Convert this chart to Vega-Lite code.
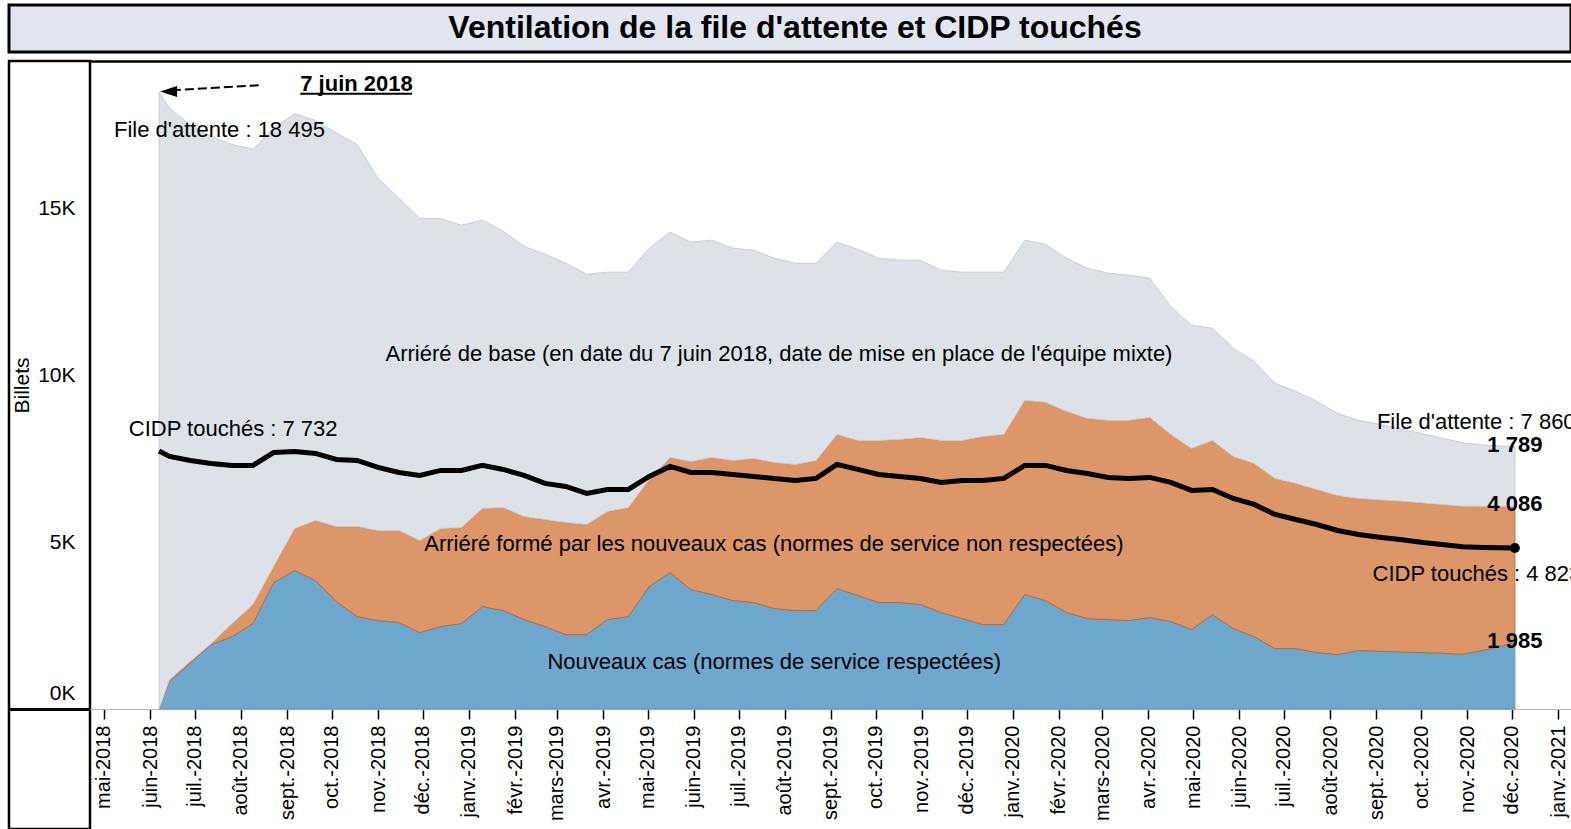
{
  "$schema": "https://vega.github.io/schema/vega-lite/v6.json",
  "padding": {"left": 7, "top": 3, "right": 0, "bottom": 0},
  "background": "white",
  "spacing": 5,
  "config": {
    "font": "Liberation Sans",
    "view": {"stroke": null},
    "text": {"font": "Liberation Sans", "color": "black"},
    "axis": {"labelColor": "black", "titleColor": "black", "labelFont": "Liberation Sans", "titleFont": "Liberation Sans"},
    "locale": {
      "number": {"decimal": ",", "thousands": " ", "grouping": [3], "currency": ["", " €"]},
      "time": {
        "dateTime": "%A %e %B %Y à %X", "date": "%d/%m/%Y", "time": "%H:%M:%S", "periods": ["AM", "PM"],
        "days": ["dimanche", "lundi", "mardi", "mercredi", "jeudi", "vendredi", "samedi"],
        "shortDays": ["dim.", "lun.", "mar.", "mer.", "jeu.", "ven.", "sam."],
        "months": ["janvier", "février", "mars", "avril", "mai", "juin", "juillet", "août", "septembre", "octobre", "novembre", "décembre"],
        "shortMonths": ["janv.", "févr.", "mars", "avr.", "mai", "juin", "juil.", "août", "sept.", "oct.", "nov.", "déc."]
      }
    }
  },
  "datasets": {
    "files": [
      {"date":"2018-06-07","nouveaux":0,"arriere_nouveaux":0,"arriere_base":18495,"cidp":7732},
      {"date":"2018-06-14","nouveaux":820,"arriere_nouveaux":60,"arriere_base":17130,"cidp":7570},
      {"date":"2018-06-28","nouveaux":1380,"arriere_nouveaux":50,"arriere_base":16070,"cidp":7450},
      {"date":"2018-07-12","nouveaux":1930,"arriere_nouveaux":30,"arriere_base":15190,"cidp":7360},
      {"date":"2018-07-26","nouveaux":2170,"arriere_nouveaux":390,"arriere_base":14360,"cidp":7300},
      {"date":"2018-08-09","nouveaux":2560,"arriere_nouveaux":570,"arriere_base":13640,"cidp":7300},
      {"date":"2018-08-23","nouveaux":3790,"arriere_nouveaux":490,"arriere_base":13130,"cidp":7690},
      {"date":"2018-09-06","nouveaux":4150,"arriere_nouveaux":1260,"arriere_base":12430,"cidp":7720},
      {"date":"2018-09-20","nouveaux":3850,"arriere_nouveaux":1800,"arriere_base":11990,"cidp":7660},
      {"date":"2018-10-04","nouveaux":3220,"arriere_nouveaux":2250,"arriere_base":11790,"cidp":7480},
      {"date":"2018-10-18","nouveaux":2770,"arriere_nouveaux":2700,"arriere_base":11450,"cidp":7450},
      {"date":"2018-11-01","nouveaux":2650,"arriere_nouveaux":2700,"arriere_base":10550,"cidp":7240},
      {"date":"2018-11-15","nouveaux":2590,"arriere_nouveaux":2760,"arriere_base":9960,"cidp":7090},
      {"date":"2018-11-29","nouveaux":2290,"arriere_nouveaux":2760,"arriere_base":9650,"cidp":7000},
      {"date":"2018-12-13","nouveaux":2470,"arriere_nouveaux":2940,"arriere_base":9290,"cidp":7150},
      {"date":"2018-12-27","nouveaux":2560,"arriere_nouveaux":2880,"arriere_base":9060,"cidp":7150},
      {"date":"2019-01-10","nouveaux":3070,"arriere_nouveaux":2940,"arriere_base":8640,"cidp":7300},
      {"date":"2019-01-24","nouveaux":2950,"arriere_nouveaux":3090,"arriere_base":8280,"cidp":7180},
      {"date":"2019-02-07","nouveaux":2680,"arriere_nouveaux":3090,"arriere_base":8100,"cidp":7000},
      {"date":"2019-02-21","nouveaux":2470,"arriere_nouveaux":3210,"arriere_base":7950,"cidp":6760},
      {"date":"2019-03-07","nouveaux":2230,"arriere_nouveaux":3360,"arriere_base":7770,"cidp":6670},
      {"date":"2019-03-21","nouveaux":2230,"arriere_nouveaux":3300,"arriere_base":7500,"cidp":6460},
      {"date":"2019-04-04","nouveaux":2680,"arriere_nouveaux":3240,"arriere_base":7170,"cidp":6580},
      {"date":"2019-04-18","nouveaux":2770,"arriere_nouveaux":3270,"arriere_base":7050,"cidp":6580},
      {"date":"2019-05-02","nouveaux":3670,"arriere_nouveaux":3210,"arriere_base":6930,"cidp":6970},
      {"date":"2019-05-16","nouveaux":4090,"arriere_nouveaux":3450,"arriere_base":6750,"cidp":7270},
      {"date":"2019-05-30","nouveaux":3580,"arriere_nouveaux":3840,"arriere_base":6570,"cidp":7090},
      {"date":"2019-06-13","nouveaux":3430,"arriere_nouveaux":4110,"arriere_base":6510,"cidp":7090},
      {"date":"2019-06-27","nouveaux":3250,"arriere_nouveaux":4200,"arriere_base":6360,"cidp":7030},
      {"date":"2019-07-11","nouveaux":3190,"arriere_nouveaux":4320,"arriere_base":6240,"cidp":6970},
      {"date":"2019-07-25","nouveaux":3010,"arriere_nouveaux":4380,"arriere_base":6120,"cidp":6910},
      {"date":"2019-08-08","nouveaux":2950,"arriere_nouveaux":4380,"arriere_base":6030,"cidp":6850},
      {"date":"2019-08-22","nouveaux":2950,"arriere_nouveaux":4500,"arriere_base":5910,"cidp":6910},
      {"date":"2019-09-05","nouveaux":3610,"arriere_nouveaux":4620,"arriere_base":5760,"cidp":7330},
      {"date":"2019-09-19","nouveaux":3400,"arriere_nouveaux":4650,"arriere_base":5730,"cidp":7180},
      {"date":"2019-10-03","nouveaux":3190,"arriere_nouveaux":4860,"arriere_base":5460,"cidp":7030},
      {"date":"2019-10-17","nouveaux":3190,"arriere_nouveaux":4890,"arriere_base":5370,"cidp":6970},
      {"date":"2019-10-31","nouveaux":3130,"arriere_nouveaux":5010,"arriere_base":5310,"cidp":6910},
      {"date":"2019-11-14","nouveaux":2890,"arriere_nouveaux":5160,"arriere_base":5100,"cidp":6790},
      {"date":"2019-11-28","nouveaux":2710,"arriere_nouveaux":5340,"arriere_base":5040,"cidp":6850},
      {"date":"2019-12-12","nouveaux":2530,"arriere_nouveaux":5640,"arriere_base":4920,"cidp":6850},
      {"date":"2019-12-26","nouveaux":2530,"arriere_nouveaux":5700,"arriere_base":4860,"cidp":6910},
      {"date":"2020-01-09","nouveaux":3430,"arriere_nouveaux":5820,"arriere_base":4800,"cidp":7300},
      {"date":"2020-01-23","nouveaux":3250,"arriere_nouveaux":5940,"arriere_base":4740,"cidp":7300},
      {"date":"2020-02-06","nouveaux":2890,"arriere_nouveaux":6030,"arriere_base":4590,"cidp":7150},
      {"date":"2020-02-20","nouveaux":2710,"arriere_nouveaux":6000,"arriere_base":4500,"cidp":7060},
      {"date":"2020-03-05","nouveaux":2680,"arriere_nouveaux":5970,"arriere_base":4410,"cidp":6940},
      {"date":"2020-03-19","nouveaux":2650,"arriere_nouveaux":6000,"arriere_base":4350,"cidp":6910},
      {"date":"2020-04-02","nouveaux":2740,"arriere_nouveaux":6000,"arriere_base":4170,"cidp":6940},
      {"date":"2020-04-16","nouveaux":2620,"arriere_nouveaux":5610,"arriere_base":3840,"cidp":6790},
      {"date":"2020-04-30","nouveaux":2380,"arriere_nouveaux":5430,"arriere_base":3690,"cidp":6550},
      {"date":"2020-05-14","nouveaux":2830,"arriere_nouveaux":5220,"arriere_base":3360,"cidp":6580},
      {"date":"2020-05-28","nouveaux":2410,"arriere_nouveaux":5160,"arriere_base":3240,"cidp":6310},
      {"date":"2020-06-11","nouveaux":2170,"arriere_nouveaux":5190,"arriere_base":3060,"cidp":6130},
      {"date":"2020-06-25","nouveaux":1810,"arriere_nouveaux":5100,"arriere_base":2850,"cidp":5830},
      {"date":"2020-07-09","nouveaux":1810,"arriere_nouveaux":4950,"arriere_base":2760,"cidp":5680},
      {"date":"2020-07-23","nouveaux":1690,"arriere_nouveaux":4890,"arriere_base":2640,"cidp":5530},
      {"date":"2020-08-06","nouveaux":1630,"arriere_nouveaux":4770,"arriere_base":2460,"cidp":5350},
      {"date":"2020-08-20","nouveaux":1750,"arriere_nouveaux":4560,"arriere_base":2340,"cidp":5230},
      {"date":"2020-09-03","nouveaux":1730,"arriere_nouveaux":4540,"arriere_base":2260,"cidp":5150},
      {"date":"2020-09-17","nouveaux":1710,"arriere_nouveaux":4520,"arriere_base":2170,"cidp":5080},
      {"date":"2020-10-01","nouveaux":1690,"arriere_nouveaux":4490,"arriere_base":2080,"cidp":5000},
      {"date":"2020-10-15","nouveaux":1670,"arriere_nouveaux":4460,"arriere_base":1990,"cidp":4930},
      {"date":"2020-10-29","nouveaux":1640,"arriere_nouveaux":4440,"arriere_base":1900,"cidp":4860},
      {"date":"2020-11-12","nouveaux":1760,"arriere_nouveaux":4315,"arriere_base":1835,"cidp":4840},
      {"date":"2020-12-03","nouveaux":1985,"arriere_nouveaux":4086,"arriere_base":1789,"cidp":4823}
    ],
    "rangs": [
      {"serie": "nouveaux", "rang": 1},
      {"serie": "arriere_nouveaux", "rang": 2},
      {"serie": "arriere_base", "rang": 3}
    ],
    "etiquettes": [
      {"date": "2018-05-07T19:00:00Z", "valeur": 17361, "texte": "File d'attente : 18 495"},
      {"date": "2018-05-17T17:00:00Z", "valeur": 8391, "texte": "CIDP touchés : 7 732"},
      {"date": "2020-09-01T10:00:00Z", "valeur": 8601, "texte": "File d'attente : 7 860"},
      {"date": "2020-08-29T12:00:00Z", "valeur": 4055, "texte": "CIDP touchés : 4 823"}
    ],
    "bandes": [
      {"date": "2019-07-28T02:00:00Z", "valeur": 10648, "texte": "Arriéré de base (en date du 7 juin 2018, date de mise en place de l'équipe mixte)"},
      {"date": "2019-07-24T17:00:00Z", "valeur": 4954, "texte": "Arriéré formé par les nouveaux cas (normes de service non respectées)"},
      {"date": "2019-07-24T22:00:00Z", "valeur": 1409, "texte": "Nouveaux cas (normes de service respectées)"}
    ],
    "date_cle": [
      {"date": "2018-09-09T19:00:00Z", "valeur": 18740, "texte": "7 juin 2018"}
    ],
    "soulignement": [
      {"date": "2018-09-09T19:00:00Z", "date_fin": "2018-11-23T19:00:00Z", "valeur": 18440}
    ],
    "fleche": [
      {"date": "2018-08-12T22:00:00Z", "valeur": 18692, "date_fin": "2018-06-19T01:00:00Z", "valeur_fin": 18551}
    ],
    "pointe": [
      {"date": "2018-06-13T09:00:00Z", "valeur": 18506}
    ]
  },
  "vconcat": [
    {
      "width": 1562,
      "height": 47,
      "view": {"fill": "#e1e6f0", "stroke": "black", "strokeWidth": 3},
      "data": {"values": [{"titre": "Ventilation de la file d'attente et CIDP touchés"}]},
      "mark": {"type": "text", "fontSize": 32, "fontWeight": "bold", "color": "black", "dx": 5, "dy": -1},
      "encoding": {"text": {"field": "titre", "type": "nominal"}}
    },
    {
      "spacing": 0,
      "bounds": "flush",
      "hconcat": [
        {
          "width": 81,
          "height": 768,
          "view": {"fill": "white", "stroke": "black", "strokeWidth": 2.5},
          "data": {"values": [{"vide": 0}]},
          "mark": {"type": "point", "opacity": 0},
          "encoding": {
            "y": {
              "datum": 0, "type": "quantitative",
              "scale": {"domain": [0, 768], "nice": false},
              "axis": {"values": [120], "grid": true, "gridColor": "black", "gridWidth": 3, "labels": false, "ticks": false, "domain": false, "title": null}
            }
          }
        },
        {
          "width": 1481,
          "height": 648,
          "view": {"stroke": null},
          "data": {"name": "files"},
          "layer": [
            {
              "mark": {"type": "line", "color": "black", "strokeWidth": 5, "opacity": 0},
              "encoding": {
                "x": {
                  "field": "date", "type": "temporal", "title": null,
                  "scale": {"type": "utc", "nice": false, "domain": [{"year": 2018, "month": 4, "date": 21, "hours": 16, "utc": true}, {"year": 2021, "month": 1, "date": 9, "hours": 16, "utc": true}]},
                  "axis": {
                    "orient": "bottom", "format": "%b-%Y", "tickCount": {"interval": "month", "step": 1},
                    "labelAngle": -90, "labelAlign": "right", "labelBaseline": "middle", "labelFontSize": 20,
                    "labelPadding": 6, "labelOverlap": false, "labelFlush": false, "labelBound": false,
                    "tickSize": 10, "tickColor": "black", "tickWidth": 1.5,
                    "domainColor": "#bbbbbb", "domainWidth": 1, "grid": false, "title": null
                  }
                },
                "y": {
                  "field": "cidp", "type": "quantitative", "title": "Billets",
                  "scale": {"domain": [0, 19420], "nice": false, "zero": true},
                  "axis": {
                    "values": [0, 5000, 10000, 15000, 19420],
                    "labelExpr": "datum.value > 19000 ? '' : datum.value / 1000 + 'K'",
                    "labelFontSize": 21, "labelPadding": 15, "ticks": false, "domain": false,
                    "grid": true, "gridColor": "black", "gridWidth": 2.5,
                    "gridOpacity": {"condition": {"test": "datum.value > 19000", "value": 1}, "value": 0},
                    "labelFlush": true, "labelFlushOffset": -6,
                    "title": "Billets", "titleFontSize": 21, "titleFontWeight": "normal", "titleAngle": -90,
                    "titleX": -68, "titleY": 324, "titleAlign": "center", "titleBaseline": "middle"
                  }
                }
              }
            },
            {
              "transform": [
                {"fold": ["nouveaux", "arriere_nouveaux", "arriere_base"], "as": ["serie", "valeur"]},
                {"lookup": "serie", "from": {"data": {"name": "rangs"}, "key": "serie", "fields": ["rang"]}},
                {"stack": "valeur", "groupby": ["date"], "sort": [{"field": "rang", "order": "ascending"}], "as": ["v0", "v1"]}
              ],
              "layer": [
                {
                  "transform": [{"filter": {"field": "serie", "equal": "nouveaux"}}],
                  "mark": {"type": "area", "fill": "#6fa8cc", "stroke": "#5e97bf", "strokeWidth": 1, "fillOpacity": 1},
                  "encoding": {
                    "x": {"field": "date", "type": "temporal", "title": null, "scale": {"type": "utc"}},
                    "y": {"field": "v1", "type": "quantitative", "title": "Billets"},
                    "y2": {"field": "v0"}
                  }
                },
                {
                  "transform": [{"filter": {"field": "serie", "equal": "arriere_nouveaux"}}],
                  "mark": {"type": "area", "fill": "#dc9668", "stroke": "#c2692f", "strokeWidth": 1, "fillOpacity": 1},
                  "encoding": {
                    "x": {"field": "date", "type": "temporal", "title": null, "scale": {"type": "utc"}},
                    "y": {"field": "v1", "type": "quantitative", "title": "Billets"},
                    "y2": {"field": "v0"}
                  }
                },
                {
                  "transform": [{"filter": {"field": "serie", "equal": "arriere_base"}}],
                  "mark": {"type": "area", "fill": "#dde2e9", "stroke": "#c8ced8", "strokeWidth": 1, "fillOpacity": 1},
                  "encoding": {
                    "x": {"field": "date", "type": "temporal", "title": null, "scale": {"type": "utc"}},
                    "y": {"field": "v1", "type": "quantitative", "title": "Billets"},
                    "y2": {"field": "v0"}
                  }
                },
                {
                  "transform": [{"filter": {"field": "date", "equal": {"year": 2020, "month": 12, "date": 3, "utc": true}}}],
                  "mark": {"type": "text", "fontSize": 22, "fontWeight": "bold", "align": "center", "baseline": "middle", "dy": -2, "color": "black"},
                  "encoding": {
                    "x": {"field": "date", "type": "temporal", "title": null, "scale": {"type": "utc"}},
                    "y": {"field": "v1", "type": "quantitative", "title": "Billets"},
                    "text": {"field": "valeur", "type": "quantitative", "format": ",d"}
                  }
                }
              ]
            },
            {
              "mark": {"type": "line", "color": "black", "strokeWidth": 5},
              "encoding": {
                "x": {"field": "date", "type": "temporal", "title": null, "scale": {"type": "utc"}},
                "y": {"field": "cidp", "type": "quantitative", "title": "Billets"}
              }
            },
            {
              "transform": [{"filter": {"field": "date", "equal": {"year": 2020, "month": 12, "date": 3, "utc": true}}}],
              "mark": {"type": "point", "filled": true, "color": "black", "size": 100, "opacity": 1},
              "encoding": {
                "x": {"field": "date", "type": "temporal", "title": null, "scale": {"type": "utc"}},
                "y": {"field": "cidp", "type": "quantitative", "title": "Billets"}
              }
            },
            {
              "data": {"name": "etiquettes"},
              "mark": {"type": "text", "fontSize": 22, "align": "left", "baseline": "middle", "color": "black"},
              "encoding": {
                "x": {"field": "date", "type": "temporal", "title": null, "scale": {"type": "utc"}},
                "y": {"field": "valeur", "type": "quantitative", "title": "Billets"},
                "text": {"field": "texte", "type": "nominal"}
              }
            },
            {
              "data": {"name": "bandes"},
              "mark": {"type": "text", "fontSize": 22, "align": "center", "baseline": "middle", "color": "black"},
              "encoding": {
                "x": {"field": "date", "type": "temporal", "title": null, "scale": {"type": "utc"}},
                "y": {"field": "valeur", "type": "quantitative", "title": "Billets"},
                "text": {"field": "texte", "type": "nominal"}
              }
            },
            {
              "data": {"name": "date_cle"},
              "mark": {"type": "text", "fontSize": 22, "fontWeight": "bold", "align": "left", "baseline": "middle", "color": "black"},
              "encoding": {
                "x": {"field": "date", "type": "temporal", "title": null, "scale": {"type": "utc"}},
                "y": {"field": "valeur", "type": "quantitative", "title": "Billets"},
                "text": {"field": "texte", "type": "nominal"}
              }
            },
            {
              "data": {"name": "soulignement"},
              "mark": {"type": "rule", "color": "black", "strokeWidth": 2},
              "encoding": {
                "x": {"field": "date", "type": "temporal", "title": null, "scale": {"type": "utc"}},
                "x2": {"field": "date_fin"},
                "y": {"field": "valeur", "type": "quantitative", "title": "Billets"}
              }
            },
            {
              "data": {"name": "fleche"},
              "mark": {"type": "rule", "color": "black", "strokeWidth": 2, "strokeDash": [9, 4]},
              "encoding": {
                "x": {"field": "date", "type": "temporal", "title": null, "scale": {"type": "utc"}},
                "x2": {"field": "date_fin"},
                "y": {"field": "valeur", "type": "quantitative", "title": "Billets"},
                "y2": {"field": "valeur_fin"}
              }
            },
            {
              "data": {"name": "pointe"},
              "mark": {"type": "point", "shape": "M-1,0L1,-0.65L1,0.65Z", "filled": true, "color": "black", "size": 289, "opacity": 1},
              "encoding": {
                "x": {"field": "date", "type": "temporal", "title": null, "scale": {"type": "utc"}},
                "y": {"field": "valeur", "type": "quantitative", "title": "Billets"}
              }
            }
          ]
        }
      ]
    }
  ]
}
